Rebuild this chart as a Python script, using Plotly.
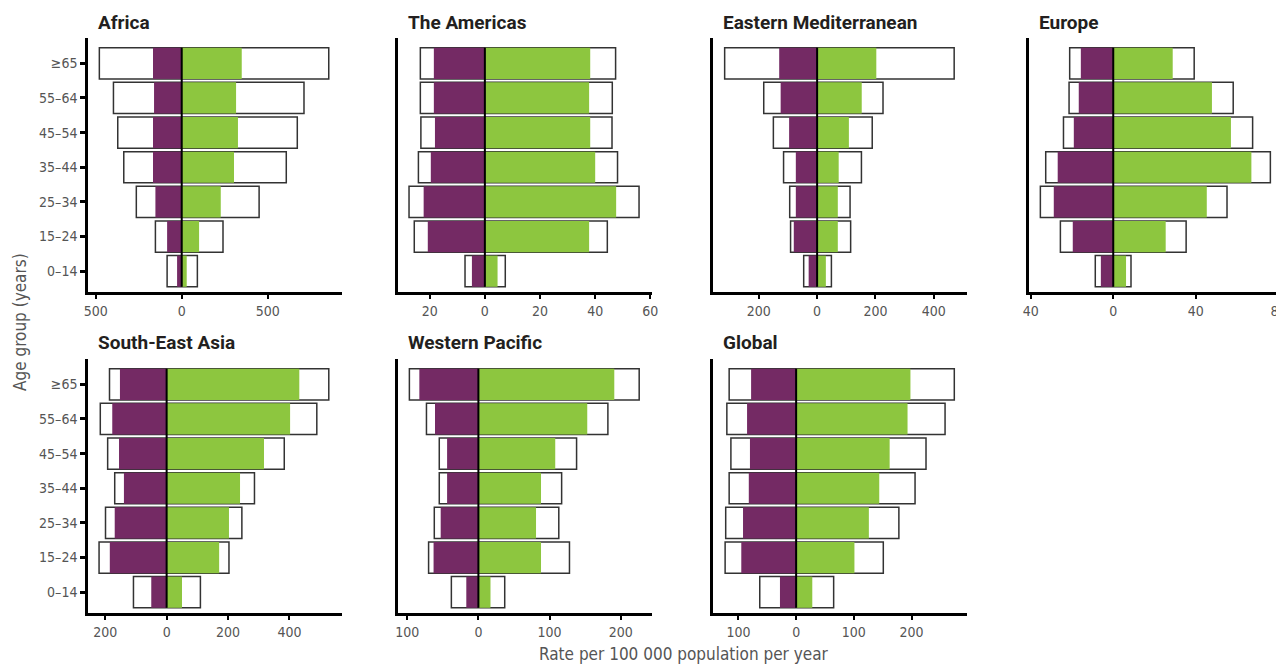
import plotly.graph_objects as go

# Age groups (bottom to top)
age_groups = ["0–14", "15–24", "25–34", "35–44", "45–54", "55–64", "≥65"]

regions = ["Africa", "The Americas", "Eastern Mediterranean", "Europe",
           "South-East Asia", "Western Pacific", "Global"]

# Outline bars: total rate, women (left) and men (right)
women_total = {
    "Africa": [85, 153, 264, 337, 372, 397, 479],
    "The Americas": [7.2, 25.6, 27.5, 24.1, 23.2, 23.4, 23.4],
    "Eastern Mediterranean": [46, 91, 94, 115, 150, 183, 317],
    "Europe": [8.7, 25.6, 35.3, 32.7, 24.1, 21.4, 21.1],
    "South-East Asia": [108, 220, 199, 169, 192, 216, 186],
    "Western Pacific": [38, 70, 62, 55, 55, 73, 97],
    "Global": [63, 123, 122, 116, 113, 120, 116],
}
men_total = {
    "Africa": [91, 240, 450, 608, 672, 711, 855],
    "The Americas": [7.4, 44.4, 55.9, 48.1, 46.1, 46.2, 47.4],
    "Eastern Mediterranean": [49, 115, 113, 152, 189, 226, 470],
    "Europe": [8.6, 35.3, 55.1, 76.1, 67.5, 58.1, 39.2],
    "South-East Asia": [110, 203, 245, 286, 383, 489, 528],
    "Western Pacific": [37, 128, 113, 117, 138, 182, 226],
    "Global": [65, 151, 178, 206, 225, 258, 274],
}
# Filled bars
women_fill = {
    "Africa": [27, 85, 153, 167, 167, 161, 167],
    "The Americas": [4.7, 20.7, 22.2, 19.6, 18.1, 18.5, 18.5],
    "Eastern Mediterranean": [29, 80, 73, 73, 96, 125, 130],
    "Europe": [6.0, 19.6, 28.8, 26.9, 19.1, 16.7, 15.7],
    "South-East Asia": [50, 185, 169, 139, 155, 177, 152],
    "Western Pacific": [17, 63, 53, 44, 44, 61, 83],
    "Global": [28, 95, 92, 82, 80, 85, 78],
}
men_fill = {
    "Africa": [29, 101, 227, 304, 327, 316, 349],
    "The Americas": [4.6, 37.8, 47.6, 40.0, 38.2, 37.8, 38.2],
    "Eastern Mediterranean": [30, 71, 71, 74, 109, 153, 203],
    "Europe": [6.2, 25.4, 45.3, 66.9, 57.0, 47.8, 28.8],
    "South-East Asia": [50, 171, 203, 239, 317, 402, 432],
    "Western Pacific": [17, 88, 81, 88, 108, 153, 191],
    "Global": [28, 101, 126, 144, 162, 193, 198],
}

# x-axis ticks and ranges per panel
x_ticks = {
    "Africa": [-500, 0, 500],
    "The Americas": [-20, 0, 20, 40, 60],
    "Eastern Mediterranean": [-200, 0, 200, 400],
    "Europe": [-40, 0, 40, 80],
    "South-East Asia": [-200, 0, 200, 400],
    "Western Pacific": [-100, 0, 100, 200],
    "Global": [-100, 0, 100, 200],
}
x_ranges = {
    "Africa": [-545, 932],
    "The Americas": [-31.5, 60.6],
    "Eastern Mediterranean": [-357, 514],
    "Europe": [-40.8, 82.7],
    "South-East Asia": [-256, 571],
    "Western Pacific": [-113, 244],
    "Global": [-144, 296],
}

# page has an 8px body margin, so the figure is a bit smaller than the window
OFF = 8
W, H = 1284 - OFF, 664 - OFF
col_px = [(88, 342), (398, 652), (713, 967), (1029, 1284)]
row_px = [(38, 292), (359, 613)]


def fx(px):
    return (px - OFF) / W


def fy(py):
    return 1 - (py - OFF) / H


PURPLE = "#742a64"
GREEN = "#8dc63f"
NARROW = "Liberation Sans Narrow, DejaVu Sans Condensed, Roboto"
TICK_FONT = dict(family=NARROW, size=14, color="#555555")

fig = go.Figure()

for i, reg in enumerate(regions):
    n = i + 1
    r, c = divmod(i, 4)
    xa = "x" if n == 1 else f"x{n}"
    ya = "y" if n == 1 else f"y{n}"

    left = [-v for v in women_total[reg]]
    width = [a + b for a, b in zip(women_total[reg], men_total[reg])]
    fig.add_trace(go.Bar(y=age_groups, x=width, base=left, orientation="h", width=0.9,
                         marker=dict(color="white", line=dict(color="#333333", width=1.5)),
                         xaxis=xa, yaxis=ya, showlegend=False))
    fig.add_trace(go.Bar(y=age_groups, x=[-v for v in women_fill[reg]], orientation="h", width=0.9,
                         marker=dict(color=PURPLE, line=dict(width=0)),
                         xaxis=xa, yaxis=ya, showlegend=False))
    fig.add_trace(go.Bar(y=age_groups, x=men_fill[reg], orientation="h", width=0.9,
                         marker=dict(color=GREEN, line=dict(width=0)),
                         xaxis=xa, yaxis=ya, showlegend=False))

    # zero line through the bars
    fig.add_shape(type="line", x0=0, x1=0, y0=-0.45, y1=6.45, xref=xa, yref=ya,
                  line=dict(color="black", width=2))

    x0, x1 = col_px[c]
    y0, y1 = row_px[r]
    ticks = x_ticks[reg]
    fig.update_layout(**{
        ("xaxis" if n == 1 else f"xaxis{n}"): dict(
            domain=[fx(x0), min(fx(x1), 1)], anchor=ya, range=x_ranges[reg],
            tickvals=ticks, ticktext=[str(abs(t)) for t in ticks],
            showline=True, linecolor="black", linewidth=2.5,
            ticks="outside", ticklen=4, tickwidth=2, tickcolor="black",
            showgrid=False, zeroline=False, tickfont=TICK_FONT, automargin=False,
            ticklabeloverflow="allow"),
        ("yaxis" if n == 1 else f"yaxis{n}"): dict(
            domain=[fy(y1), fy(y0)], anchor=xa, range=[-0.6, 6.73],
            type="category", categoryorder="array", categoryarray=age_groups,
            showline=True, linecolor="black", linewidth=2.5,
            ticks="outside" if c == 0 else "", ticklen=5, tickwidth=2.5, tickcolor="black",
            showticklabels=(c == 0), showgrid=False, zeroline=False, tickfont=TICK_FONT,
            automargin=False),
    })

    # panel title
    fig.add_annotation(text=f"<b>{reg}</b>", x=fx(x0 + 8), y=fy(y0 - 16),
                       xref="paper", yref="paper", xanchor="left", yanchor="middle",
                       showarrow=False, font=dict(family="Roboto, Liberation Sans", size=19, color="#231f20"))

# axis titles
fig.add_annotation(text="Age group (years)", x=fx(20), y=fy(322), xref="paper", yref="paper",
                   textangle=-90, showarrow=False, xanchor="center", yanchor="middle",
                   font=dict(family=NARROW, size=17, color="#555555"))
fig.add_annotation(text="Rate per 100 000 population per year", x=fx(684), y=fy(654),
                   xref="paper", yref="paper", showarrow=False, xanchor="center", yanchor="middle",
                   font=dict(family=NARROW, size=17, color="#555555"))

fig.update_layout(width=W, height=H, barmode="overlay", bargap=0.1,
                  margin=dict(l=0, r=0, t=0, b=0),
                  plot_bgcolor="white", paper_bgcolor="white")

fig.write_html("out.html")
